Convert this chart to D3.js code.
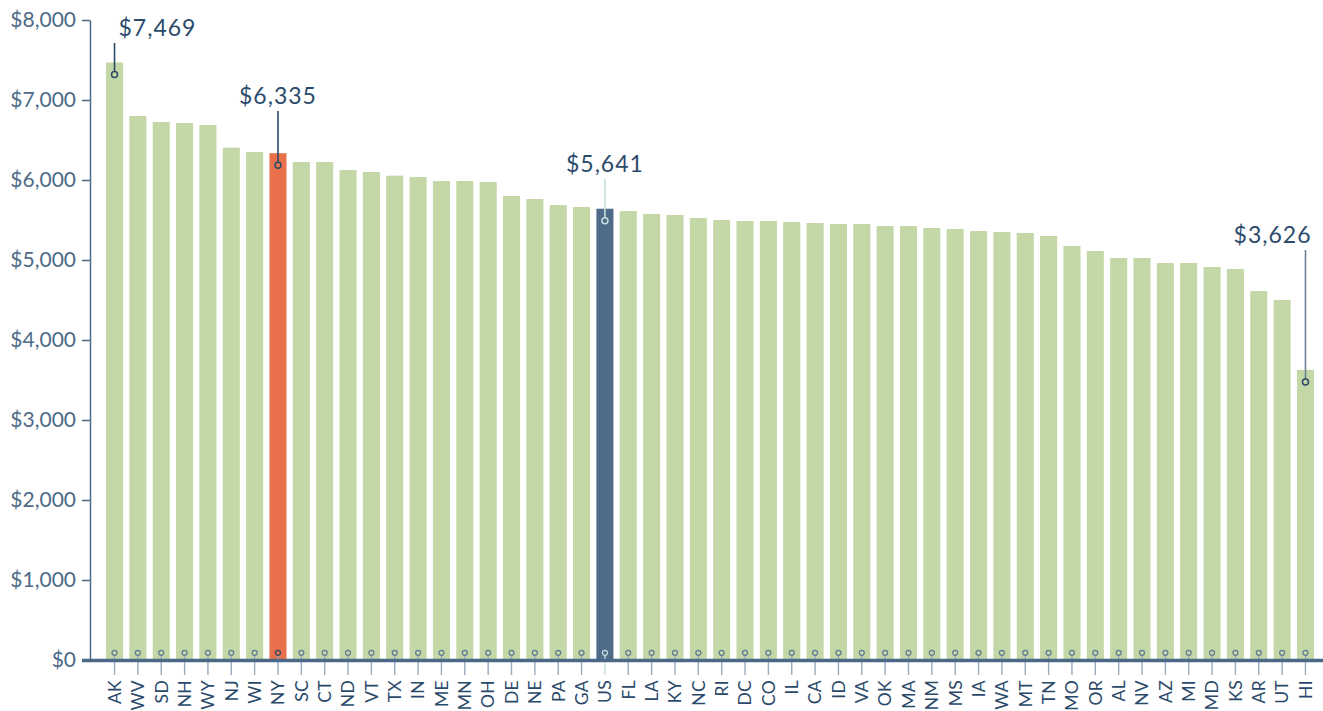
<!DOCTYPE html>
<html>
<head>
<meta charset="utf-8">
<script src="https://cdn.jsdelivr.net/npm/d3@7"></script>
<style>
  html, body { margin: 0; padding: 0; background: #fff; }
  svg { display: block; font-family: Lato, "Noto Sans", sans-serif; }
</style>
</head>
<body>
<svg id="chart" width="1323" height="711"></svg>
<script>
// data
const states = ["AK","WV","SD","NH","WY","NJ","WI","NY","SC","CT","ND","VT","TX","IN","ME","MN","OH","DE","NE","PA","GA","US",
  "FL","LA","KY","NC","RI","DC","CO","IL","CA","ID","VA","OK","MA","NM","MS","IA","WA","MT","TN","MO","OR","AL","NV","AZ","MI","MD","KS","AR","UT","HI"];
const values = [7469,6800,6725,6712,6687,6404,6350,6335,6225,6225,6125,6100,6054,6037,5987,5987,5975,5800,5762,5687,5662,5641,
  5612,5575,5562,5525,5500,5487,5487,5475,5462,5450,5450,5425,5425,5400,5387,5362,5350,5337,5300,5175,5112,5025,5025,4962,4962,4912,4887,4612,4500,3626];
const yTicks = [0,1000,2000,3000,4000,5000,6000,7000,8000];
const annotated = ["AK","NY","US","HI"];

// layout / styles
const labelPos = {
  AK: { y: 36,  anchor: "start", dx: 4, line: "#2c4a68", dot: "#2c4a68" },
  NY: { y: 104, anchor: "middle", dx: 0, line: "#2c4a68", dot: "#2c4a68" },
  US: { y: 172, anchor: "middle", dx: 0, line: "#c3dfdb", dot: "#c3dfdb" },
  HI: { y: 243, anchor: "end",   dx: 6, line: "#6b8399", dot: "#2c4a68" }
};
const barColor = d => d === "NY" ? "#e8714b" : d === "US" ? "#4e6b8a" : "#c3d7a7";
const axisColor = "#4b6886";
const textColor = "#2b4a6b";

const rows = states.map((s, i) => ({ state: s, value: values[i] }));

const svg = d3.select("#chart");
const baseY = 660;

const x = d3.scaleBand().domain(states).range([106, 1314]).paddingInner(0.27).paddingOuter(0);
const y = d3.scaleLinear().domain([0, 8000]).range([baseY, 20]);
const cx = d => x(d) + x.bandwidth() / 2;

// y axis
const yAxis = svg.append("g")
  .attr("transform", "translate(90,0)")
  .call(d3.axisLeft(y).tickValues(yTicks).tickSize(8).tickSizeOuter(0).tickPadding(6)
    .tickFormat(d => "$" + d3.format(",")(d)));
yAxis.select(".domain").attr("stroke", axisColor).attr("stroke-width", 1.5);
yAxis.selectAll(".tick line").attr("stroke", axisColor).attr("stroke-width", 1.5);
yAxis.selectAll(".tick text")
  .attr("fill", "#4d6a88")
  .style("font-size", "21px")
  .style("font-family", "Lato, 'Noto Sans', sans-serif");

// bars
svg.append("g").selectAll("rect")
  .data(rows)
  .join("rect")
  .attr("x", d => x(d.state))
  .attr("y", d => y(d.value))
  .attr("width", x.bandwidth())
  .attr("height", d => baseY - y(d.value) + (d.state === "US" ? 2 : 0))
  .attr("fill", d => barColor(d.state));

// stems at the foot of each bar
const stems = svg.append("g");
stems.selectAll("line")
  .data(rows)
  .join("line")
  .attr("x1", d => cx(d.state)).attr("x2", d => cx(d.state))
  .attr("y1", 655.5).attr("y2", 675)
  .attr("stroke", d => d.state === "US" ? "#c3dfdb" : "#98aabe")
  .attr("stroke-width", 1.4);

// baseline
svg.append("line")
  .attr("x1", 82).attr("x2", 1323)
  .attr("y1", baseY + 0.5).attr("y2", baseY + 0.5)
  .attr("stroke", axisColor).attr("stroke-width", 3.5);

stems.selectAll("circle")
  .data(rows)
  .join("circle")
  .attr("cx", d => cx(d.state))
  .attr("cy", 652.8)
  .attr("r", 2.5)
  .attr("fill", "none")
  .attr("stroke", d => d.state === "NY" ? "#2c4a68" : d.state === "US" ? "#c3dfdb" : "#5f7892")
  .attr("stroke-width", 1.2);

// x labels
svg.append("g").selectAll("text")
  .data(states)
  .join("text")
  .attr("transform", d => `translate(${cx(d)},680) rotate(-90)`)
  .attr("text-anchor", "end")
  .attr("dy", "0.36em")
  .attr("fill", textColor)
  .style("font-size", "17.5px")
  .style("letter-spacing", "0.3px")
  .text(d => d);

// annotations
const ann = svg.append("g").selectAll("g")
  .data(rows.filter(d => annotated.includes(d.state)))
  .join("g");

ann.append("line")
  .attr("x1", d => cx(d.state)).attr("x2", d => cx(d.state))
  .attr("y1", d => labelPos[d.state].y + 7)
  .attr("y2", d => y(d.value) + 9)
  .attr("stroke", d => labelPos[d.state].line)
  .attr("stroke-width", 1.6);

ann.append("circle")
  .attr("cx", d => cx(d.state))
  .attr("cy", d => y(d.value) + 12)
  .attr("r", 3)
  .attr("fill", "none")
  .attr("stroke", d => labelPos[d.state].dot)
  .attr("stroke-width", 1.5);

ann.append("text")
  .attr("x", d => cx(d.state) + labelPos[d.state].dx)
  .attr("y", d => labelPos[d.state].y)
  .attr("text-anchor", d => labelPos[d.state].anchor)
  .attr("fill", textColor)
  .style("font-size", "23px")
  .style("letter-spacing", "1px")
  .text(d => "$" + d3.format(",")(d.value));
</script>
</body>
</html>
